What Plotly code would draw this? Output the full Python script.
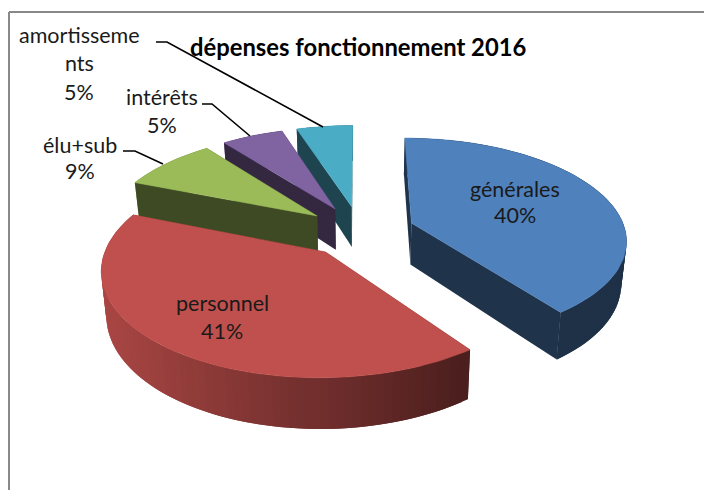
import numpy as np
import plotly.graph_objects as go

# data
categories = ["générales", "personnel", "élu+sub", "intérêts", "amortissements"]
values = [39.9, 41.1, 8.51, 5.49, 5.0]
colors = ["#4F81BD", "#C0504D", "#9BBB59", "#8064A2", "#4BACC6"]
title_text = "dépenses fonctionnement 2016"
label_lines = [["générales"], ["personnel"], ["élu+sub"], ["intérêts"], ["amortisseme", "nts"]]
label_x = [515, 222, 80, 162, 79]
label_y = [[189, 215], [303, 331], [145, 171], [97, 125], [35, 63, 92]]
leaders = [
    [(156, 42), (167, 42), (323, 127)],
    [(202, 104), (212, 104), (250, 136)],
    [(123, 151), (135, 151), (163, 164)],
]

# 3D projection settings
CX, CY = 360, 231
A, B, K = 214, 100, 0.15
H = 42
Z_SHRINK = 0.02
PULL = 0.256
FONT = "Lato"


def proj(u, v, z=0.0):
    w = 1 - K * v
    return CX + A * u * (1 - Z_SHRINK * z) / w, CY + (B * v + H * z) / w


def shade(hex_color, f):
    rgb = [int(hex_color[i:i + 2], 16) for i in (1, 3, 5)]
    return "rgb(%d,%d,%d)" % tuple(int(c * f) for c in rgb)


def poly(pts, color, width=0.0):
    xs = [p[0] for p in pts] + [pts[0][0]]
    ys = [p[1] for p in pts] + [pts[0][1]]
    return go.Scatter(x=xs, y=ys, mode="lines", fill="toself", fillcolor=color,
                      line=dict(color=color, width=width), hoverinfo="skip", showlegend=False)


total = sum(values)
starts = np.cumsum([0] + values[:-1]) / total * 2 * np.pi
sweeps = np.array(values) / total * 2 * np.pi
fig = go.Figure()

order = sorted(range(len(values)),
               key=lambda i: -np.cos(starts[i] + sweeps[i] / 2))
for i in order:
    t0, dt = starts[i], sweeps[i]
    mid = t0 + dt / 2
    du, dv = PULL * np.sin(mid), -PULL * np.cos(mid)
    n = max(6, int(values[i] * 2))
    ths = t0 + dt * np.arange(n + 1) / n
    us, vs = du + np.sin(ths), dv - np.cos(ths)
    faces = []
    for a in (0, n):
        q = [proj(du, dv, 0), proj(us[a], vs[a], 0), proj(us[a], vs[a], 1), proj(du, dv, 1)]
        faces.append(((dv + vs[a]) / 2, q, 0.4))
    for j in range(n):
        # each strip runs on to the next edge so that no seam shows between strips
        k = min(j + 2, n)
        q = [proj(us[j], vs[j], 0), proj(us[k], vs[k], 0),
             proj(us[k], vs[k], 1), proj(us[j], vs[j], 1)]
        xm = (q[0][0] + q[1][0]) / 2
        f = float(np.clip(0.88 - 0.5 * (xm - 105) / 365, 0.38, 0.88))
        faces.append(((vs[j] + vs[j + 1]) / 2, q, f))
    for _, q, f in sorted(faces, key=lambda r: r[0]):
        fig.add_trace(poly(q, shade(colors[i], f), 0.0))
    top = [proj(du, dv, 0)] + [proj(u, v, 0) for u, v in zip(us, vs)]
    fig.add_trace(poly(top, colors[i], 0.5))

for pts in leaders:
    fig.add_trace(go.Scatter(x=[p[0] for p in pts], y=[p[1] for p in pts], mode="lines",
                             line=dict(color="black", width=1.6), hoverinfo="skip", showlegend=False))

annotations = []
for i in range(len(values)):
    lines = label_lines[i] + ["%.0f%%" % values[i]]
    for text, y in zip(lines, label_y[i]):
        annotations.append(dict(x=label_x[i], y=y, text=text, showarrow=False, xanchor="center",
                                yanchor="middle", font=dict(family=FONT, size=21.5, color="#1a1a1a")))
annotations.append(dict(x=358, y=47, text="<b>%s</b>" % title_text, showarrow=False, xanchor="center",
                        yanchor="middle", font=dict(family=FONT, size=23.8, color="black")))

frame = [
    dict(type="line", x0=9, y0=12, x1=704, y1=12, line=dict(color="#888888", width=2)),
    dict(type="line", x0=9, y0=12, x1=9, y1=490, line=dict(color="#888888", width=2)),
]

fig.update_layout(
    width=704, height=490, margin=dict(l=0, r=0, t=0, b=0),
    paper_bgcolor="white", plot_bgcolor="white", showlegend=False,
    xaxis=dict(range=[0, 704], visible=False, fixedrange=True),
    yaxis=dict(range=[490, 0], visible=False, fixedrange=True),
    annotations=annotations, shapes=frame,
)
fig.write_html("out.html", config={"displayModeBar": False},
               post_script="document.body.style.margin='0';document.documentElement.style.overflow='hidden';")
